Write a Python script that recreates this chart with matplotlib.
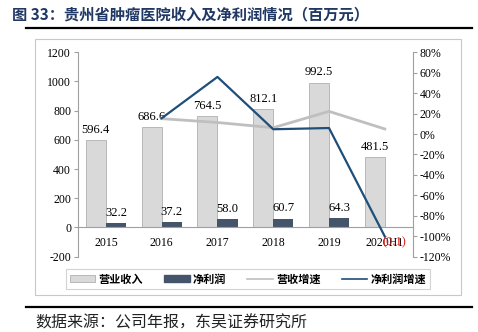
import numpy as np
import matplotlib
matplotlib.use("Agg")
import matplotlib.pyplot as plt
from matplotlib.lines import Line2D
from matplotlib.patches import Rectangle, Patch
from matplotlib.ticker import FuncFormatter

plt.rcParams['font.family'] = ['Liberation Serif', 'Noto Sans CJK SC', 'DejaVu Sans']
plt.rcParams['axes.unicode_minus'] = False

years = ['2015', '2016', '2017', '2018', '2019', '2020H1']
revenue = [596.4, 686.6, 764.5, 812.1, 992.5, 481.5]
net_profit = [32.2, 37.2, 58.0, 60.7, 64.3, -0.1]
revenue_growth = [np.nan, 15.1, 11.3, 6.2, 22.2, 5.0]
profit_growth = [np.nan, 15.5, 55.9, 4.7, 5.9, -100.2]

W, H = 478, 332
fig = plt.figure(figsize=(W / 100, H / 100), dpi=100)

def fx(px):
    return px / W

def fy(py):
    return 1 - py / H

cjk = ['Noto Sans CJK SC', 'DejaVu Sans']
title_color = '#203864'
rev_color = '#d9d9d9'
rev_edge = '#b0b0b0'
np_color = '#44546a'
rg_color = '#bfbfbf'
pg_color = '#1f4e79'
axis_gray = '#a0a0a0'

# Title and decorative lines
fig.text(fx(12), fy(14), '图 33：贵州省肿瘤医院收入及净利润情况（百万元）', family=cjk,
         fontsize=11, fontweight='bold', color=title_color, va='center', ha='left')
fig.add_artist(Line2D([fx(26), fx(472)], [fy(28), fy(28)], color='black', lw=1.6))
fig.add_artist(Line2D([fx(26), fx(472)], [fy(307), fy(307)], color='black', lw=1.6))
fig.add_artist(Rectangle((fx(35), fy(295)), fx(461) - fx(35), fy(39) - fy(295),
                         fill=False, edgecolor='#c8c8c8', lw=0.8))
fig.text(fx(35), fy(323), '数据来源：公司年报，东吴证券研究所', family=cjk,
         fontsize=11.5, color='#222222', va='center', ha='left')

# Main axes
left, right, top, bottom = 78, 412.7, 52.3, 256.7
ax = fig.add_axes([fx(left), fy(bottom), fx(right) - fx(left), fy(top) - fy(bottom)])
x = np.arange(len(years))
w = 0.36
ax.bar(x - w / 2, revenue, width=w, color=rev_color, edgecolor=rev_edge, linewidth=0.6)
ax.bar(x + w / 2, net_profit, width=w, color=np_color, linewidth=0)
ax.set_ylim(-200, 1200)
ax.set_yticks(np.arange(-200, 1201, 200))
ax.set_xlim(-0.5, len(years) - 0.5)
ax.set_xticks(x)
ax.set_xticklabels(years)
ax.spines['top'].set_visible(False)
ax.spines['right'].set_visible(False)
ax.spines['bottom'].set_position(('data', 0))
for s in ['left', 'bottom']:
    ax.spines[s].set_color(axis_gray)
    ax.spines[s].set_linewidth(0.8)
ax.tick_params(axis='y', length=3, color=axis_gray, labelsize=8.5, pad=2)
ax.tick_params(axis='x', length=0, labelsize=8.5, pad=7)
ax.patch.set_alpha(0)

for xi, v in zip(x, revenue):
    ax.annotate(f'{v:.1f}', (xi - w / 2, v), xytext=(0, 3), textcoords='offset points',
                ha='center', va='bottom', fontsize=9)
for xi, v in zip(x, net_profit):
    if v >= 0:
        ax.annotate(f'{v:.1f}', (xi + w / 2, v), xytext=(0, 3), textcoords='offset points',
                    ha='center', va='bottom', fontsize=9)
    else:
        ax.annotate(f'({abs(v):.1f})', (xi + w / 2, v), xytext=(0, -6), textcoords='offset points',
                    ha='center', va='top', fontsize=9, color='#e0201c')

# Right axis
ax2 = ax.twinx()
ax2.plot(x, revenue_growth, color=rg_color, lw=2.0)
ax2.plot(x, profit_growth, color=pg_color, lw=1.6)
ax2.set_ylim(-120, 80)
ax2.set_yticks(np.arange(-120, 81, 20))
ax2.yaxis.set_major_formatter(FuncFormatter(lambda v, p: f'{v:.0f}%'))
for s in ['top', 'left', 'bottom']:
    ax2.spines[s].set_visible(False)
ax2.spines['right'].set_color(axis_gray)
ax2.spines['right'].set_linewidth(0.8)
ax2.tick_params(axis='y', length=3, color=axis_gray, labelsize=8.5, pad=2)

handles = [Patch(facecolor=rev_color, edgecolor=rev_edge, linewidth=0.6),
           Patch(facecolor=np_color, edgecolor=np_color),
           Line2D([], [], color=rg_color, lw=1.2),
           Line2D([], [], color=pg_color, lw=1.2)]
labels = ['营业收入', '净利润', '营收增速', '净利润增速']
leg = fig.legend(handles, labels, loc='center', bbox_to_anchor=(fx(248), fy(279)), ncol=4,
                 prop={'family': cjk, 'size': 8, 'weight': 'bold'}, frameon=True, fancybox=False,
                 edgecolor='#c8c8c8', handlelength=2.3, handleheight=0.5, columnspacing=1.9,
                 handletextpad=0.3, borderpad=0.35)
leg.get_frame().set_linewidth(0.8)

fig.savefig('out.png', dpi=100)
